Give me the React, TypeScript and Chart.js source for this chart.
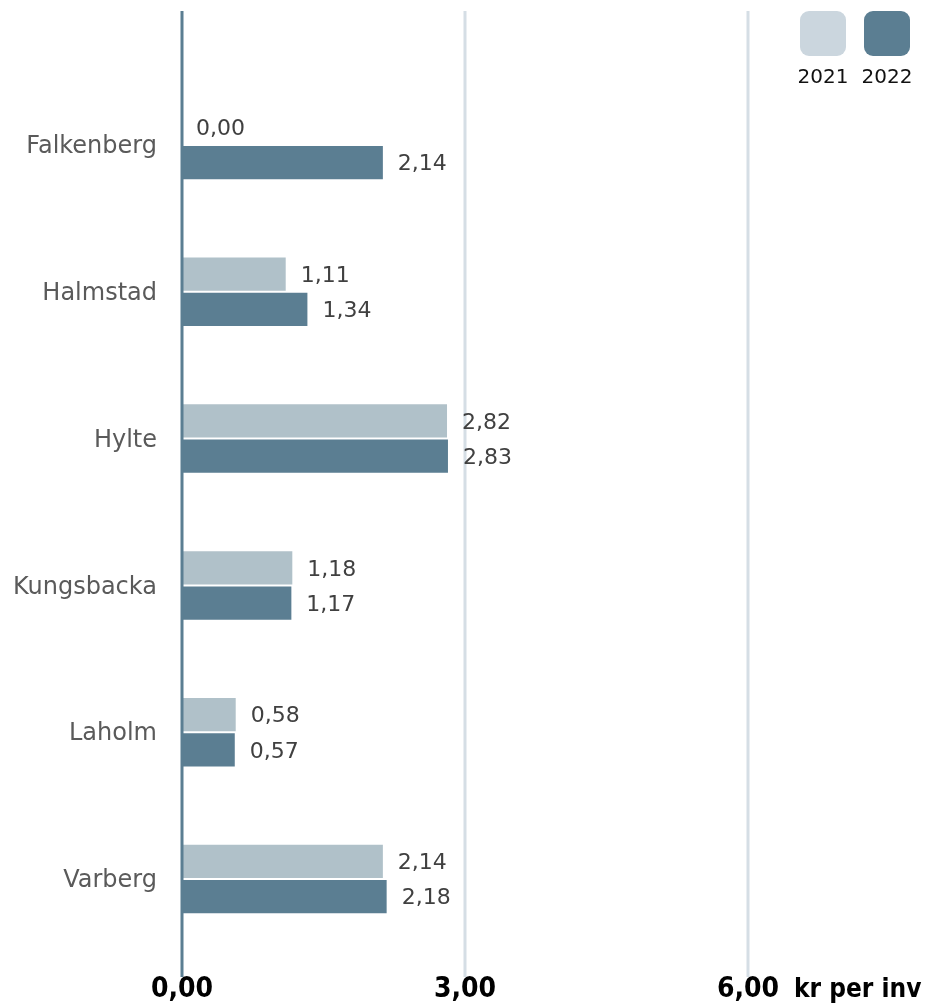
import React, { useEffect, useRef } from "react";
import { Chart, registerables } from "chart.js";

Chart.register(...registerables);

const categories = ["Falkenberg", "Halmstad", "Hylte", "Kungsbacka", "Laholm", "Varberg"];
const seriesNames = ["2021", "2022"];
const values2021 = [0.0, 1.11, 2.82, 1.18, 0.58, 2.14];
const values2022 = [2.14, 1.34, 2.83, 1.17, 0.57, 2.18];
const xTicks = [0, 3, 6];
const unitLabel = "kr per inv";

const barColors = ["#b0c1c9", "#5b7e92"];
const legendColors = ["#cbd6de", "#5b7e92"];
const gridColor = "#d5dee5";
const zeroColor = "#5b7e92";
const FONT = "'DejaVu Sans', Verdana, sans-serif";
const BOLD_FONT = "'DejaVu Sans Condensed', 'DejaVu Sans', sans-serif";

const fmt = (v: number) => v.toFixed(2).replace(".", ",");

const decorPlugin = {
  id: "decor",
  beforeDatasetsDraw(chart: any) {
    const ctx = chart.ctx;
    const xs = chart.scales.x;
    ctx.save();
    ctx.lineWidth = 3;
    ctx.strokeStyle = gridColor;
    xTicks.forEach((t) => {
      if (t === 0) return;
      const px = xs.getPixelForValue(t);
      ctx.beginPath();
      ctx.moveTo(px, 11);
      ctx.lineTo(px, 977);
      ctx.stroke();
    });
    ctx.restore();
  },
  afterDatasetsDraw(chart: any) {
    const ctx = chart.ctx;
    const xs = chart.scales.x;
    ctx.save();
    // zero line
    const x0 = xs.getPixelForValue(0);
    ctx.lineWidth = 3;
    ctx.strokeStyle = zeroColor;
    ctx.beginPath();
    ctx.moveTo(x0, 11);
    ctx.lineTo(x0, 977);
    ctx.stroke();

    // value labels
    ctx.font = `22px ${FONT}`;
    ctx.fillStyle = "#404040";
    ctx.textAlign = "left";
    ctx.textBaseline = "middle";
    chart.data.datasets.forEach((ds: any, di: number) => {
      const meta = chart.getDatasetMeta(di);
      meta.data.forEach((el: any, i: number) => {
        ctx.fillText(fmt(ds.data[i]), el.x + 14, el.y + 2);
      });
    });

    // unit label next to last tick
    const lastPx = xs.getPixelForValue(xTicks[xTicks.length - 1]);
    ctx.font = `bold 26px ${BOLD_FONT}`;
    ctx.fillStyle = "#000";
    ctx.textBaseline = "middle";
    ctx.fillText(unitLabel, lastPx + 46, 990);

    // legend
    const boxW = 46;
    const boxH = 45;
    const startX = 800;
    const gap = 64;
    chart.data.datasets.forEach((ds: any, di: number) => {
      const bx = startX + di * gap;
      ctx.fillStyle = legendColors[di];
      ctx.beginPath();
      (ctx as any).roundRect(bx, 11, boxW, boxH, 9);
      ctx.fill();
      ctx.font = `20px ${FONT}`;
      ctx.fillStyle = "#111";
      ctx.textAlign = "center";
      ctx.textBaseline = "middle";
      ctx.fillText(ds.label, bx + boxW / 2, 78);
    });
    ctx.restore();
  },
};

export default function App() {
  const ref = useRef<HTMLCanvasElement | null>(null);
  useEffect(() => {
    if (!ref.current) return;
    const chart = new Chart(ref.current, {
      type: "bar",
      data: {
        labels: categories,
        datasets: [
          {
            label: seriesNames[0],
            data: values2021,
            backgroundColor: barColors[0],
            borderColor: "#ffffff",
            borderWidth: 1,
            categoryPercentage: 0.48,
            barPercentage: 1.0,
          },
          {
            label: seriesNames[1],
            data: values2022,
            backgroundColor: barColors[1],
            borderColor: "#ffffff",
            borderWidth: 1,
            categoryPercentage: 0.48,
            barPercentage: 1.0,
          },
        ],
      },
      options: {
        indexAxis: "y",
        animation: false,
        responsive: false,
        devicePixelRatio: 1,
        layout: { padding: { top: 71.6, right: 182, bottom: 0, left: 0 } },
        plugins: {
          legend: { display: false },
          tooltip: { enabled: false },
        },
        scales: {
          x: {
            min: 0,
            max: 6,
            afterBuildTicks: (s: any) => {
              s.ticks = xTicks.map((v) => ({ value: v }));
            },
            afterFit: (s: any) => {
              s.height = 50.6;
            },
            ticks: {
              callback: (v: any) => fmt(Number(v)),
              font: { family: BOLD_FONT, size: 28, weight: "bold", lineHeight: 1 },
              color: "#000",
              padding: 23.6,
              maxRotation: 0,
              autoSkip: false,
            },
            grid: { display: false, drawTicks: false },
            border: { display: false },
          },
          y: {
            afterFit: (s: any) => {
              s.width = 182;
            },
            ticks: {
              font: { family: FONT, size: 24 },
              color: "#5a5a5a",
              padding: 25,
              labelOffset: 2,
            },
            grid: { display: false, drawTicks: false },
            border: { display: false },
          },
        },
      },
      plugins: [decorPlugin],
    } as any);
    return () => chart.destroy();
  }, []);

  return (
    <div style={{ position: "fixed", left: 0, top: 0, width: 930, height: 1003, background: "#fff" }}>
      <canvas ref={ref} width={930} height={1003} style={{ width: 930, height: 1003, display: "block" }} />
    </div>
  );
}
